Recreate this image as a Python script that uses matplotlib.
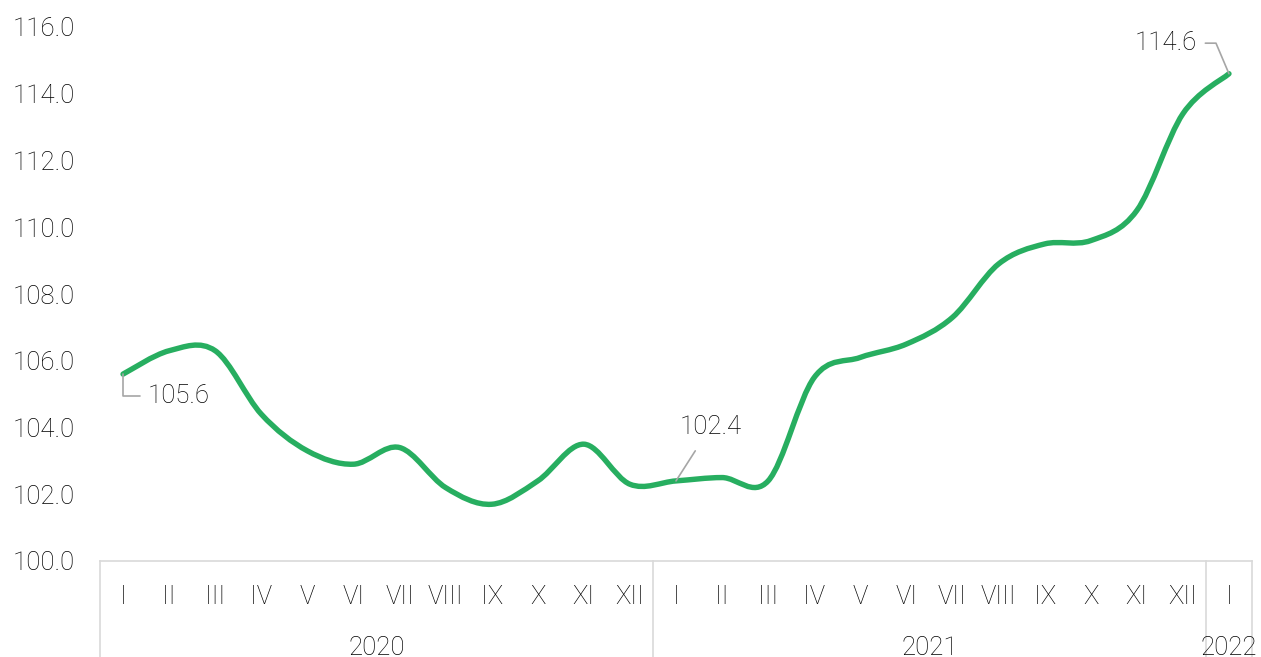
import numpy as np
import matplotlib
matplotlib.use('Agg')
import matplotlib.pyplot as plt
from matplotlib.path import Path
from matplotlib.patches import PathPatch
from matplotlib.lines import Line2D

plt.rcParams['font.family'] = ['Roboto', 'DejaVu Sans']
plt.rcParams['font.weight'] = 'light'

# monthly index values, 2020-I .. 2022-I
months = ['I', 'II', 'III', 'IV', 'V', 'VI', 'VII', 'VIII', 'IX', 'X', 'XI', 'XII',
          'I', 'II', 'III', 'IV', 'V', 'VI', 'VII', 'VIII', 'IX', 'X', 'XI', 'XII',
          'I']
years = ['2020', '2021', '2022']
year_len = [12, 12, 1]
values = [105.6, 106.3, 106.3, 104.4, 103.3, 102.9, 103.4, 102.2, 101.7, 102.4, 103.5, 102.3,
          102.4, 102.5, 102.4, 105.5, 106.1, 106.5, 107.3, 108.9, 109.5, 109.6, 110.5, 113.4,
          114.6]

green = '#27ae60'
grey = '#d9d9d9'
txt = '#000000'
fs = 18.5

fig = plt.figure(figsize=(12.61, 6.57), dpi=100)
ax = fig.add_axes([100 / 1261, 96 / 657, 1152 / 1261, 534 / 657])

# smoothed line (catmull-rom -> cubic bezier, like excel's "smoothed line")
x = np.arange(len(values), dtype=float)
y = np.array(values)
n = len(x)
verts = [(x[0], y[0])]
codes = [Path.MOVETO]
for i in range(n - 1):
    ip = max(i - 1, 0)
    inn = min(i + 2, n - 1)
    c1 = (x[i] + (x[i + 1] - x[ip]) / 6, y[i] + (y[i + 1] - y[ip]) / 6)
    c2 = (x[i + 1] - (x[inn] - x[i]) / 6, y[i + 1] - (y[inn] - y[i]) / 6)
    verts += [c1, c2, (x[i + 1], y[i + 1])]
    codes += [Path.CURVE4] * 3
ax.add_patch(PathPatch(Path(verts, codes), facecolor='none', edgecolor=green,
                       lw=3.9, capstyle='round', joinstyle='round'))

ax.set_xlim(-0.5, n - 0.5)
ax.set_ylim(100, 116)
ax.set_yticks(np.arange(100, 117, 2))
ax.set_yticklabels(['%.1f' % v for v in np.arange(100, 117, 2)])
ax.set_xticks(x)
ax.set_xticklabels(months)
ax.tick_params(axis='both', length=0, labelsize=fs, colors=txt)
ax.tick_params(axis='y', pad=18)
ax.tick_params(axis='x', pad=17.5)
for s in ['left', 'right', 'top']:
    ax.spines[s].set_visible(False)
ax.spines['bottom'].set_color(grey)
ax.spines['bottom'].set_linewidth(1.2)

# year group labels and separators
trans = ax.get_xaxis_transform()
start = -0.5
bounds = [start]
for yr, ln in zip(years, year_len):
    ax.text(start + ln / 2, -0.162, yr, transform=trans, ha='center', va='center',
            fontsize=fs, color=txt)
    start += ln
    bounds.append(start)
for b in bounds:
    ax.add_line(Line2D([b, b], [0, -0.2], transform=trans, color=grey, lw=1.2, clip_on=False))

# data labels
ann = dict(fontsize=fs, color=txt, textcoords='offset points', va='center')
ax.annotate('%.1f' % values[0], xy=(x[0], y[0]), xytext=(18, -16), ha='left',
            arrowprops=dict(arrowstyle='-', color='#a6a6a6', lw=1.2, shrinkA=4, shrinkB=0,
                            connectionstyle='angle,angleA=0,angleB=90,rad=0'), **ann)
ax.annotate('%.1f' % values[12], xy=(x[12], y[12]), xytext=(25, 39), ha='center',
            arrowprops=dict(arrowstyle='-', color='#a6a6a6', lw=1.2, shrinkA=8, shrinkB=0), **ann)
ax.annotate('%.1f' % values[24], xy=(x[24], y[24]), xytext=(-23, 22), ha='right',
            arrowprops=dict(arrowstyle='-', color='#a6a6a6', lw=1.2, shrinkA=4, shrinkB=0,
                            connectionstyle='angle,angleA=0,angleB=113,rad=0'), **ann)

fig.savefig('out.png', dpi=100)
